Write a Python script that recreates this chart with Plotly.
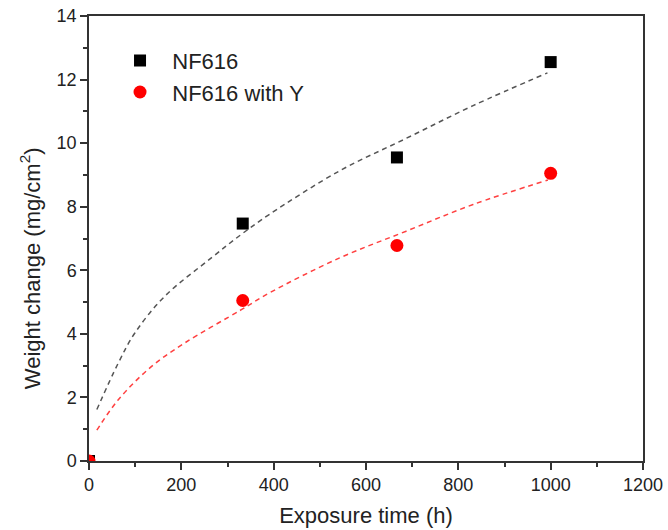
import plotly.graph_objects as go

# Measured data
time_h = [0, 333, 667, 1000]
nf616 = [0, 7.47, 9.55, 12.55]
nf616_y = [0, 5.05, 6.78, 9.05]

# Fitted curves
fit_x = [17, 63, 99, 164, 265, 330, 391, 543, 687, 832, 993]
fit_nf616 = [1.62, 3.07, 4.02, 5.18, 6.39, 7.13, 7.76, 9.13, 10.15, 11.18, 12.21]
fit_x_y = [17, 63, 135, 207, 330, 391, 543, 687, 832, 994]
fit_nf616_y = [0.97, 1.92, 2.97, 3.71, 4.76, 5.29, 6.39, 7.23, 8.07, 8.84]

FONT = "Liberation Sans, Arial"

fig = go.Figure()
fig.add_trace(go.Scatter(x=fit_x, y=fit_nf616, mode="lines",
                         line=dict(color="#555555", width=1.5, dash="5px,4px", shape="spline"),
                         showlegend=False, hoverinfo="skip"))
fig.add_trace(go.Scatter(x=fit_x_y, y=fit_nf616_y, mode="lines",
                         line=dict(color="#ff4040", width=1.5, dash="5px,4px", shape="spline"),
                         showlegend=False, hoverinfo="skip"))
fig.add_trace(go.Scatter(x=time_h, y=nf616, mode="markers", name="&nbsp;&nbsp;NF616",
                         marker=dict(symbol="square", size=12, color="black")))
fig.add_trace(go.Scatter(x=time_h, y=nf616_y, mode="markers", name="&nbsp;&nbsp;NF616 with Y",
                         marker=dict(symbol="circle", size=13, color="#ff0000")))

axis_common = dict(showgrid=False, zeroline=False, showline=True, linecolor="#333333", linewidth=1.5,
                   mirror=True, automargin=False,
                   ticks="outside", ticklen=7, tickwidth=1.5, tickcolor="#333333",
                   tickfont=dict(family=FONT, size=18, color="#222222"),
                   minor=dict(ticks="outside", ticklen=4, tickwidth=1.5, tickcolor="#333333"))

fig.update_xaxes(range=[0, 1200], dtick=200, minor_dtick=100,
                 title=dict(text="Exposure time (h)", font=dict(family=FONT, size=22, color="#222222"), standoff=13),
                 **axis_common)
fig.update_yaxes(range=[0, 14], dtick=2, minor_dtick=1, **axis_common)

fig.add_annotation(text="Weight change (mg/cm<sup>2</sup>)", textangle=-90, showarrow=False,
                   xref="paper", yref="paper", x=-0.106, y=0.434, xanchor="center", yanchor="middle",
                   font=dict(family=FONT, size=22, color="#222222"))

fig.update_layout(width=668, height=530, plot_bgcolor="white", paper_bgcolor="white",
                  margin=dict(l=89, r=25, t=16, b=69),
                  legend=dict(x=0.056, y=0.947, xanchor="left", yanchor="top", bgcolor="rgba(0,0,0,0)",
                              font=dict(family=FONT, size=22, color="#222222"),
                              itemwidth=30, tracegroupgap=0))
fig.write_html("out.html", config={"displayModeBar": False},
               post_script="document.body.style.margin='0';document.body.style.overflow='hidden';")
